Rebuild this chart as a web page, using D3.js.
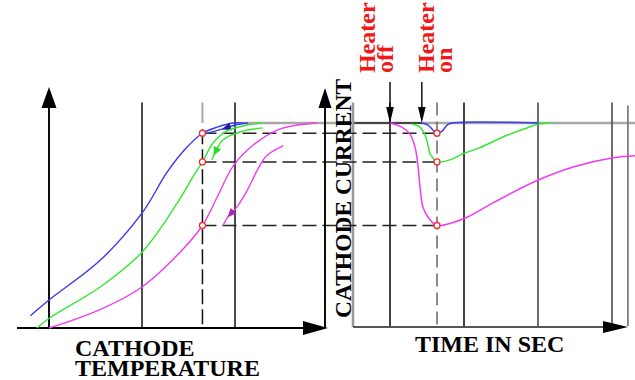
<!DOCTYPE html>
<html>
<head>
<meta charset="utf-8">
<script src="https://cdn.jsdelivr.net/npm/d3@7"></script>
<style>
  html, body { margin: 0; padding: 0; background: #fff; }
  svg { display: block; }
  text { font-family: "Liberation Serif", "Times New Roman", serif; font-weight: bold; }
</style>
</head>
<body>
<svg id="chart" width="635" height="380"></svg>
<script>
// Cathode temperature (relative units) on the left, time in seconds on the right,
// cathode current normalised to the saturation value on both.
const tempGrid = [1, 2];
const tempMarker = 1.65;
const timeGrid = [1, 3, 5, 7];
const timeBorder = 7.43;
const timeMarker = 2.27;
const heaterOff = 1.0;
const heaterOn = 1.86;
const currentLevels = [0.95, 0.81, 0.50];

// emission curves I(T), [temperature, current]
const blueRise = [[-0.20,0.06],[0.01,0.14],[0.55,0.33],[1.00,0.56],[1.27,0.76],[1.48,0.88],[1.65,0.95],[1.81,0.98],[1.98,1.00],[2.10,1.00]];
const blueReturn = [[2.14,1.00],[2.00,0.99],[1.86,0.97],[1.70,0.95]];
const greenRise = [[-0.13,0.00],[0.01,0.05],[0.55,0.20],[1.00,0.37],[1.38,0.61],[1.55,0.74],[1.65,0.81],[1.76,0.90],[1.91,0.96],[2.13,0.99],[2.29,1.00]];
const greenReturn = [[2.30,0.976],[2.05,0.956],[1.87,0.917],[1.81,0.878],[1.77,0.84],[1.75,0.82]];
const magentaRise = [[0.00,0.00],[0.55,0.09],[1.00,0.20],[1.41,0.37],[1.65,0.50],[1.81,0.64],[1.98,0.79],[2.19,0.89],[2.48,0.97],[2.88,1.00]];
const magentaReturn = [[2.52,0.89],[2.34,0.84],[2.24,0.77],[2.13,0.67],[2.02,0.59],[1.92,0.54],[1.87,0.50]];
const returnArrowAt = [2, 4, 5];

// current after the heater interruption, [time, current]
const blueTime = [[1.86,1.00],[2.03,0.99],[2.16,0.966],[2.27,0.95],[2.41,0.96],[2.54,0.99],[2.68,1.00],[5.00,1.00]];
const greenTime = [[1.59,0.995],[1.81,0.98],[1.95,0.94],[2.03,0.89],[2.08,0.85],[2.16,0.83],[2.27,0.81],[2.62,0.82],[2.97,0.85],[3.43,0.88],[4.16,0.94],[4.70,0.976],[5.00,0.995],[5.32,1.00]];
const magentaTime = [[1.00,1.00],[1.32,0.98],[1.54,0.946],[1.68,0.88],[1.76,0.785],[1.81,0.69],[1.89,0.59],[2.03,0.54],[2.27,0.50],[2.62,0.51],[3.08,0.54],[3.78,0.61],[4.86,0.71],[5.95,0.785],[7.03,0.83],[7.62,0.84]];

const heaterLabels = [["Heater", "off"], ["Heater", "on"]];

const colors = { blue: "#3a3af0", green: "#33e833", magenta: "#f03cf0" };
const arrowColors = { blue: "#1c1ca8", green: "#22dd22", magenta: "#b024b0" };

const svg = d3.select("#chart");
svg.append("rect").attr("width", 635).attr("height", 380).attr("fill", "#fff");

const xT = d3.scaleLinear().domain([0, 3]).range([49, 328]);
const xt = d3.scaleLinear().domain([0, 7]).range([353, 612]);
const yI = d3.scaleLinear().domain([0, 1]).range([328, 123]);
const yTop = yI(1.1);

const g = svg.append("g");

function tri(tip, dir, len, half, fill) {
  const [tx, ty] = tip, [dx, dy] = dir;
  const n = Math.hypot(dx, dy), ux = dx / n, uy = dy / n;
  const bx = tx - ux * len, by = ty - uy * len;
  g.append("path")
    .attr("d", `M${tx},${ty}L${bx - uy * half},${by + ux * half}L${bx + uy * half},${by - ux * half}Z`)
    .attr("fill", fill);
}

// ---- left panel: grid ----
tempGrid.forEach(t => {
  g.append("line").attr("x1", xT(t)).attr("x2", xT(t)).attr("y1", yTop).attr("y2", yI(0))
    .attr("stroke", "#111").attr("stroke-width", 1.5);
});
g.append("line").attr("x1", xT(tempMarker)).attr("x2", xT(tempMarker)).attr("y1", yTop).attr("y2", yI(1))
  .attr("stroke", "#aaa").attr("stroke-width", 2);
g.append("line").attr("x1", xT(tempMarker)).attr("x2", xT(tempMarker)).attr("y1", yI(0.97)).attr("y2", yI(0))
  .attr("stroke", "#111").attr("stroke-width", 1.5).attr("stroke-dasharray", "15,5");

// saturation level across both panels
g.append("line").attr("x1", xT(2.1)).attr("x2", 635).attr("y1", yI(1)).attr("y2", yI(1))
  .attr("stroke", "#a8a8a8").attr("stroke-width", 2.4);
g.append("line").attr("x1", xt(-0.4)).attr("x2", xt(heaterOn)).attr("y1", yI(1)).attr("y2", yI(1))
  .attr("stroke", "#222").attr("stroke-width", 1.4);

// ---- right panel: frame and grid ----
g.append("line").attr("x1", xt(0)).attr("x2", xt(0)).attr("y1", yTop).attr("y2", yI(0) - 1)
  .attr("stroke", "#9a9a9a").attr("stroke-width", 2.6);
timeGrid.forEach((t, i) => {
  g.append("line").attr("x1", xt(t)).attr("x2", xt(t)).attr("y1", yTop).attr("y2", yI(0) - 1)
    .attr("stroke", i < 2 ? "#222" : "#555").attr("stroke-width", 1.7);
});
g.append("line").attr("x1", xt(timeBorder)).attr("x2", xt(timeBorder)).attr("y1", yTop + 3).attr("y2", yI(0) - 2)
  .attr("stroke", "#777").attr("stroke-width", 1.7);
g.append("line").attr("x1", xt(timeMarker)).attr("x2", xt(timeMarker)).attr("y1", yTop).attr("y2", yI(0) - 1)
  .attr("stroke", "#666").attr("stroke-width", 1.5).attr("stroke-dasharray", "13,6");

// dashed current levels linking both panels
currentLevels.forEach(v => {
  g.append("line").attr("x1", xT(tempMarker)).attr("x2", xt(timeMarker)).attr("y1", yI(v)).attr("y2", yI(v))
    .attr("stroke", "#222").attr("stroke-width", 1.5).attr("stroke-dasharray", "14,6");
});

// ---- axes ----
g.append("line").attr("x1", 49).attr("x2", 49).attr("y1", 100).attr("y2", yI(0))
  .attr("stroke", "#000").attr("stroke-width", 1.9);
tri([49, 87], [0, -1], 21, 7.5, "#000");
g.append("line").attr("x1", 17).attr("x2", 310).attr("y1", yI(0)).attr("y2", yI(0))
  .attr("stroke", "#000").attr("stroke-width", 1.9);
tri([328, yI(0)], [1, 0], 25, 7, "#000");
g.append("line").attr("x1", 325).attr("x2", 325).attr("y1", 100).attr("y2", yI(0))
  .attr("stroke", "#000").attr("stroke-width", 1.9);
tri([325, 88], [0, -1], 20, 6.5, "#000");
g.append("line").attr("x1", xt(0)).attr("x2", 606).attr("y1", yI(0) - 1).attr("y2", yI(0) - 1)
  .attr("stroke", "#555").attr("stroke-width", 2);
tri([628, yI(0) - 1], [1, 0], 25, 6, "#000");

// ---- curves ----
const lineT = d3.line().x(d => xT(d[0])).y(d => yI(d[1])).curve(d3.curveCatmullRom.alpha(0.5));
const lineTime = d3.line().x(d => xt(d[0])).y(d => yI(d[1])).curve(d3.curveCatmullRom.alpha(0.5));

const sets = [
  { key: "blue", rise: blueRise, back: blueReturn, time: blueTime },
  { key: "green", rise: greenRise, back: greenReturn, time: greenTime },
  { key: "magenta", rise: magentaRise, back: magentaReturn, time: magentaTime }
];
sets.forEach((s, i) => {
  g.append("path").attr("d", lineT(s.rise)).attr("fill", "none")
    .attr("stroke", colors[s.key]).attr("stroke-width", 1.4);
  g.append("path").attr("d", lineT(s.back)).attr("fill", "none")
    .attr("stroke", colors[s.key]).attr("stroke-width", 1.4);
  const k = returnArrowAt[i];
  const tip = [xT(s.back[k][0]), yI(s.back[k][1])];
  const prev = [xT(s.back[k - 1][0]), yI(s.back[k - 1][1])];
  tri(tip, [tip[0] - prev[0], tip[1] - prev[1]], 9, 4, arrowColors[s.key]);
});
// time responses drawn with magenta first so blue stays on top
[sets[2], sets[1], sets[0]].forEach(s => {
  g.append("path").attr("d", lineTime(s.time)).attr("fill", "none")
    .attr("stroke", colors[s.key]).attr("stroke-width", 1.5);
});

// ---- operating points ----
currentLevels.forEach(v => {
  [xT(tempMarker), xt(timeMarker)].forEach(x => {
    g.append("circle").attr("cx", x).attr("cy", yI(v)).attr("r", 3)
      .attr("fill", "#fff").attr("stroke", "#f03030").attr("stroke-width", 1.3);
  });
});

// ---- heater events: arrow on the time axis plus a rotated two-line label ----
const heaterTimes = [heaterOff, heaterOn];
const labelShift = [-15, 12];   // baseline of the first label line relative to its arrow
heaterTimes.forEach((t, i) => {
  const x = xt(t);
  g.append("line").attr("x1", x).attr("x2", x).attr("y1", 82).attr("y2", 108)
    .attr("stroke", "#000").attr("stroke-width", 1.4);
  tri([x, yI(1)], [0, 1], 16, 3.8, "#000");
  heaterLabels[i].forEach((txt, j) => {
    const bx = x + labelShift[i] + j * 18;
    g.append("text").attr("transform", `translate(${bx},73) rotate(-90)`)
      .attr("text-anchor", "start").attr("font-size", 24).attr("fill", "#f01818").text(txt);
  });
});

// ---- axis titles ----
g.append("text").attr("x", 75).attr("y", 356).attr("font-size", 24).attr("fill", "#000").text("CATHODE");
g.append("text").attr("x", 75).attr("y", 376).attr("font-size", 24).attr("fill", "#000").text("TEMPERATURE");
g.append("text").attr("x", 415).attr("y", 352).attr("font-size", 24).attr("fill", "#000").text("TIME IN SEC");
g.append("text").attr("transform", "translate(351,318) rotate(-90)")
  .attr("font-size", 23.5).attr("fill", "#000").text("CATHODE CURRENT");
</script>
</body>
</html>
